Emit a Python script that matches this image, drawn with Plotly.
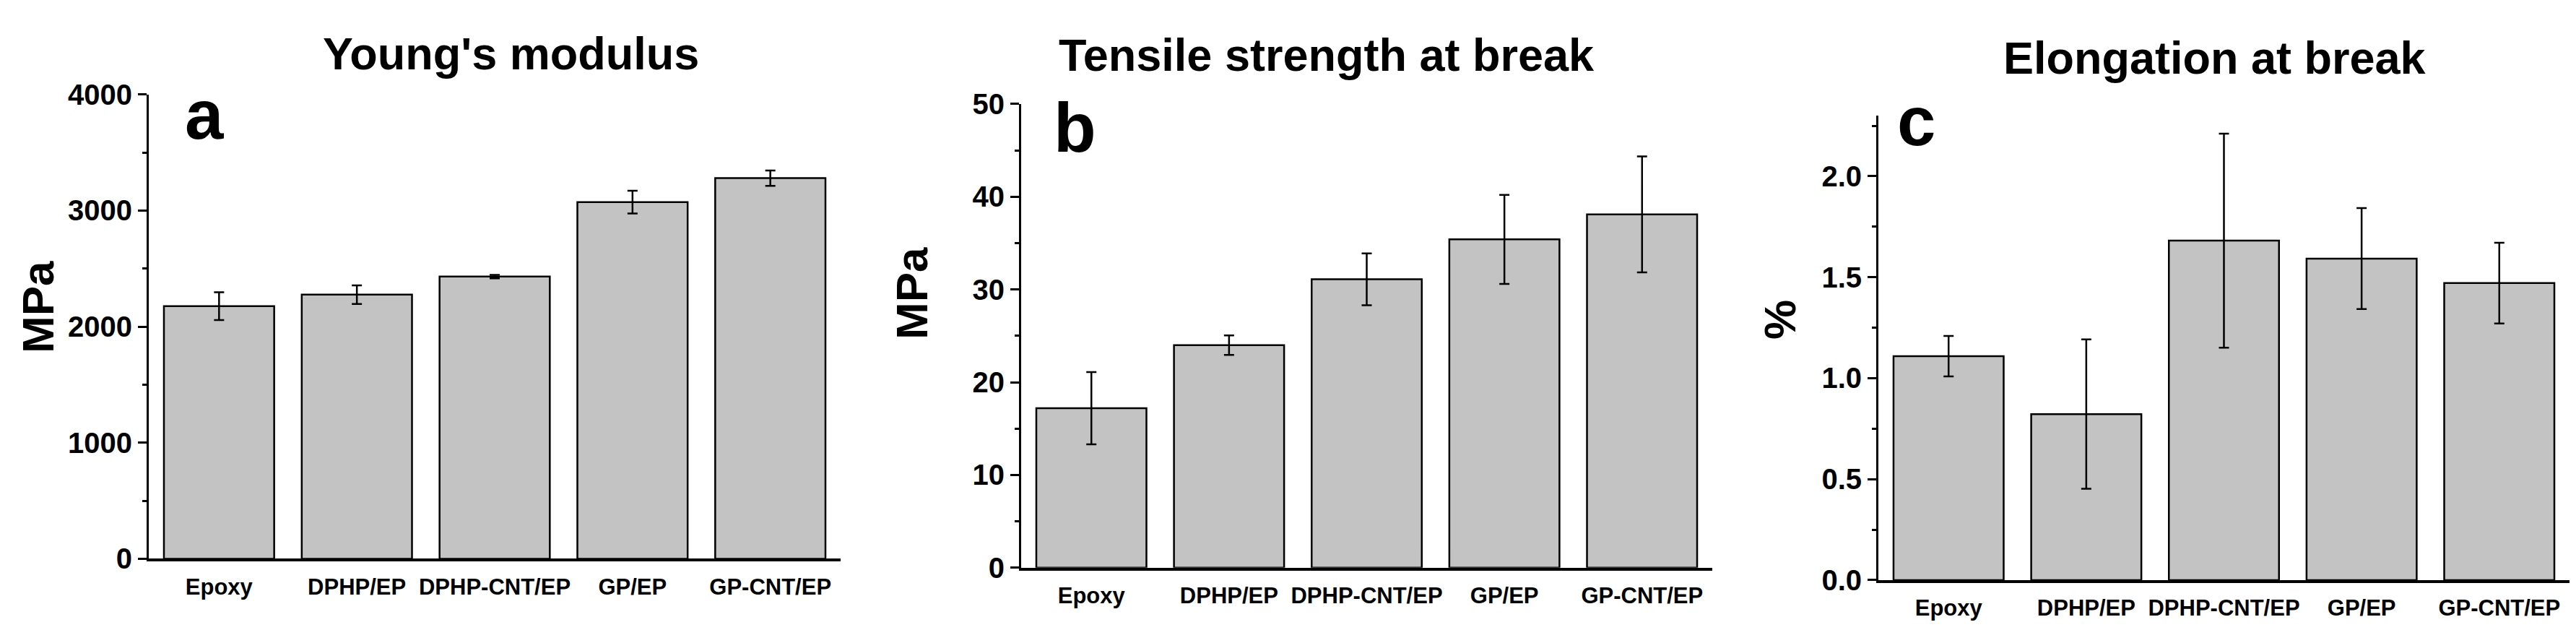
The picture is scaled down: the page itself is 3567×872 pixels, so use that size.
import plotly.graph_objects as go

categories = ["Epoxy", "DPHP/EP", "DPHP-CNT/EP", "GP/EP", "GP-CNT/EP"]

modulus = [2176, 2275, 2431, 3072, 3279]
modulus_err = [120, 80, 15, 98, 66]

tensile = [17.2, 24.0, 31.1, 35.4, 38.1]
tensile_err = [3.9, 1.05, 2.8, 4.8, 6.25]

elong = [1.109, 0.822, 1.681, 1.592, 1.471]
elong_err = [0.10, 0.37, 0.53, 0.25, 0.20]

titles = ["Young's modulus", "Tensile strength at break", "Elongation at break"]
ytitles = ["MPa", "MPa", "%"]
letters = ["a", "b", "c"]

W, H = 3567, 872
FONT = "Liberation Sans, Arial, sans-serif"

fig = go.Figure()

series = [(modulus, modulus_err), (tensile, tensile_err), (elong, elong_err)]
for i, (vals, errs) in enumerate(series):
    sfx = "" if i == 0 else str(i + 1)
    fig.add_trace(go.Bar(
        x=categories, y=vals, width=0.8,
        xaxis="x" + sfx, yaxis="y" + sfx,
        marker=dict(color="#c3c3c3", line=dict(color="black", width=2.5)),
        error_y=dict(type="data", array=errs, visible=True,
                     thickness=2.5, width=7, color="black"),
        showlegend=False,
    ))

def px_x(p):
    return p / W

def px_y(p):
    return 1 - p / H

xdoms = [(198, 1156), (1406, 2363), (2593, 3550)]
ydoms = [(783, 106), (796, 120), (814, 137)]
yranges = [[0, 4000], [0, 50], [0, 2.3]]
ydticks = [1000, 10, 0.5]
yminor = [500, 5, 0.25]
ytickfmt = ["d", "d", ".1f"]

layout = dict(
    width=W, height=H,
    margin=dict(l=0, r=0, t=0, b=0),
    paper_bgcolor="white", plot_bgcolor="white",
    bargap=0.2,
)

for i in range(3):
    sfx = "" if i == 0 else str(i + 1)
    layout["xaxis" + sfx] = dict(
        domain=[px_x(xdoms[i][0]), px_x(xdoms[i][1])],
        anchor="y" + sfx,
        range=[-0.51, 4.51],
        showline=True, linecolor="black", linewidth=4,
        ticks="outside", ticklen=8, tickcolor="rgba(0,0,0,0)",
        tickfont=dict(family=FONT, size=31, color="black", weight="bold"),
        showgrid=False, zeroline=False,
    )
    layout["yaxis" + sfx] = dict(
        domain=[px_y(ydoms[i][0]), px_y(ydoms[i][1])],
        anchor="x" + sfx,
        range=yranges[i],
        dtick=ydticks[i], tick0=0, tickformat=ytickfmt[i],
        showline=True, linecolor="black", linewidth=3,
        ticks="outside", ticklen=12, tickwidth=2.5, tickcolor="black",
        minor=dict(ticks="outside", ticklen=6, tickwidth=2.5,
                   tickcolor="black", dtick=yminor[i], tick0=0, showgrid=False),
        tickfont=dict(family=FONT, size=40, color="black", weight="bold"),
        showgrid=False, zeroline=False,
    )

fig.update_layout(**layout)

annotations = []
title_pos = [(699, 46), (1829, 48), (3059, 53)]
for t, (x, y) in zip(titles, title_pos):
    annotations.append(dict(text=t, x=px_x(x), y=px_y(y), xref="paper", yref="paper",
                            xanchor="center", yanchor="middle", showarrow=False,
                            font=dict(family=FONT, size=63, color="black", weight="bold")))
letter_pos = [(275, 135), (1480, 154), (2645, 145)]
for t, (x, y) in zip(letters, letter_pos):
    annotations.append(dict(text=t, x=px_x(x), y=px_y(y), xref="paper", yref="paper",
                            xanchor="center", yanchor="middle", showarrow=False,
                            font=dict(family=FONT, size=96, color="black", weight="bold")))
ytitle_pos = [(44, 416), (1254, 396), (2456, 435)]
for t, (x, y) in zip(ytitles, ytitle_pos):
    annotations.append(dict(text=t, x=px_x(x), y=px_y(y), xref="paper", yref="paper",
                            xanchor="center", yanchor="middle", showarrow=False, textangle=-90,
                            font=dict(family=FONT, size=62, color="black", weight="bold")))
fig.update_layout(annotations=annotations)

fig.write_html("out.html")
